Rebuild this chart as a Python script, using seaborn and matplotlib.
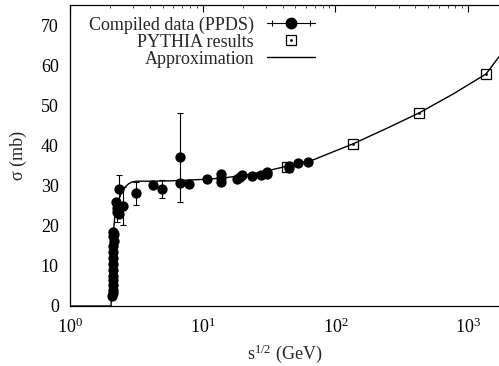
import numpy as np
import pandas as pd
import matplotlib
matplotlib.use("Agg")
import matplotlib.pyplot as plt
import seaborn as sns
from matplotlib.lines import Line2D
from matplotlib.legend_handler import HandlerLine2D, HandlerTuple
from matplotlib.ticker import LogLocator, NullFormatter, LogFormatterMathtext

# ---- data ----
ppds_x = [2.09, 2.10, 2.11, 2.10, 2.12, 2.11, 2.10, 2.12, 2.11, 2.12, 2.11, 2.13, 2.12, 2.13, 2.12,
          2.22, 2.26, 2.34, 2.34, 2.51, 2.28,
          3.14, 4.22, 4.94, 6.75, 6.75, 7.88,
          10.8, 13.7, 13.7, 13.7, 18.1, 19.1, 19.8, 23.5, 27.5, 30.5, 30.5,
          44.7, 44.7, 52.3, 62.2]
ppds_y = [2.6, 3.2, 4.0, 5.2, 6.5, 7.5, 9.0, 10.5, 12.0, 13.5, 15.0, 16.2, 17.4, 18.0, 18.5,
          26.0, 23.5, 23.0, 29.1, 25.0, 24.5,
          28.2, 30.1, 29.2, 37.1, 30.6, 30.3,
          31.6, 31.0, 32.0, 32.9, 31.6, 32.1, 32.6, 32.4, 32.6, 33.0, 33.4,
          34.4, 34.9, 35.6, 35.9]

err_x = [2.34, 2.51, 2.26, 3.14, 4.94, 6.75]
err_y = [29.1, 25.0, 23.0, 28.2, 29.2, 37.1]
err_lo = [25.6, 20.2, 21.0, 25.2, 26.9, 25.9]
err_hi = [32.6, 29.7, 25.0, 31.0, 31.4, 48.1]

pythia_x = [43.2, 135.7, 427.0, 1364.0]
pythia_y = [34.7, 40.4, 48.1, 57.8]

approx_x = [1.0, 2.04, 2.06, 2.10, 2.17, 2.30, 2.45, 2.60, 2.75, 2.93, 3.2, 4.0, 6.0, 8.0, 11.0,
            15.0, 20.0, 30.0, 45.0, 68.0, 91.0, 136.0, 245.0, 427.0, 769.0, 1364.0, 1710.0]
approx_y = [0.0, 0.0, 8.0, 16.0, 22.0, 26.0, 28.3, 29.6, 30.4, 30.9, 31.1, 31.1, 31.2, 31.4, 31.6,
            32.0, 32.5, 33.6, 35.0, 36.4, 38.1, 40.4, 44.3, 48.1, 52.8, 57.8, 62.1]

y_ticks = [0, 10, 20, 30, 40, 50, 60, 70]

# ---- style ----
sns.set_style("white")
plt.rcParams["font.family"] = ["Liberation Serif", "DejaVu Serif"]
plt.rcParams["mathtext.fontset"] = "custom"
plt.rcParams["mathtext.rm"] = "Liberation Serif"
plt.rcParams["mathtext.it"] = "Liberation Serif:italic"
plt.rcParams["mathtext.bf"] = "Liberation Serif:bold"
plt.rcParams["font.size"] = 13

fig = plt.figure(figsize=(4.99, 3.66), dpi=100)
ax = fig.add_axes([70 / 499, 60 / 366, 429 / 499, 301 / 366])

df_ppds = pd.DataFrame({"x": ppds_x, "y": ppds_y})
df_py = pd.DataFrame({"x": pythia_x, "y": pythia_y})
df_ap = pd.DataFrame({"x": approx_x, "y": approx_y})

# approximation
sns.lineplot(data=df_ap, x="x", y="y", ax=ax, color="black", lw=1.0, sort=False,
             estimator=None, zorder=2)

# error bars
yerr = [np.array(err_y) - np.array(err_lo), np.array(err_hi) - np.array(err_y)]
ax.errorbar(err_x, err_y, yerr=yerr, fmt="none", ecolor="black", elinewidth=0.8,
            capsize=2.2, capthick=0.8, zorder=3)

# compiled data
sns.scatterplot(data=df_ppds, x="x", y="y", ax=ax, color="black", s=55, marker="o",
                edgecolor="black", linewidth=0, zorder=4)

# pythia squares
ax.plot(df_py["x"], df_py["y"], ls="none", marker="s", ms=7, mfc="none", mec="black",
        mew=0.9, zorder=5)
ax.plot(df_py["x"], df_py["y"], ls="none", marker="o", ms=1.0, mfc="black", mec="black",
        zorder=5)

# ---- axes ----
ax.set_xscale("log")
ax.set_xlim(1.0, 1710.0)
ax.set_ylim(0, 75)
ax.yaxis.set_major_locator(plt.FixedLocator(y_ticks))
ax.xaxis.set_major_locator(LogLocator(base=10))
ax.xaxis.set_minor_locator(LogLocator(base=10, subs=np.arange(2, 10)))
ax.xaxis.set_major_formatter(LogFormatterMathtext())
ax.xaxis.set_minor_formatter(NullFormatter())

ax.tick_params(axis="both", which="major", direction="in", length=5, width=0.8,
               top=True, right=False, labelsize=13, colors="black")
ax.tick_params(axis="x", which="minor", direction="in", length=2.5, width=0.6, top=True)
ax.tick_params(axis="x", which="major", pad=8)
ax.tick_params(axis="y", which="major", pad=8)

for s in ["left", "bottom", "top"]:
    ax.spines[s].set_color("black")
    ax.spines[s].set_linewidth(0.9)
ax.spines["right"].set_visible(False)

ax.set_xlabel("s$^{1/2}$ (GeV)", fontsize=13, labelpad=4)
ax.set_ylabel("σ (mb)", fontsize=13, labelpad=10)

# ---- legend ----
h_dot = Line2D([], [], ls="-", color="black", lw=0.8, marker="o", ms=7.5)
h_cap = Line2D([], [], ls="none", color="black", marker="|", ms=4, mew=0.8)
h_sq = Line2D([], [], ls="none", marker="s", ms=7, mfc="none", mec="black", mew=0.9)
h_sqd = Line2D([], [], ls="none", marker="o", ms=1.0, mfc="black", mec="black")
h_line = Line2D([], [], ls="-", color="black", lw=1.0)

leg = ax.legend([(h_dot, h_cap), (h_sq, h_sqd), h_line],
                ["Compiled data (PPDS)", "PYTHIA results", "Approximation"],
                handler_map={h_cap: HandlerLine2D(numpoints=2),
                             tuple: HandlerTuple(ndivide=1, pad=0)},
                loc="upper right", bbox_to_anchor=(0.572, 0.962), borderaxespad=0,
                borderpad=0, frameon=False, markerfirst=False, handlelength=2.7,
                handletextpad=0.7, labelspacing=0.0, fontsize=13)

fig.savefig("out.png", dpi=100)
